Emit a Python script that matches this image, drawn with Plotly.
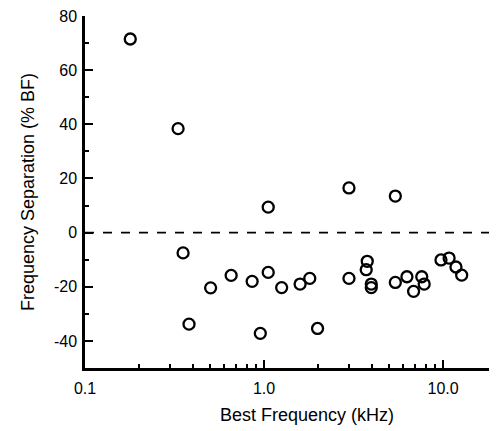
import plotly.graph_objects as go

# Best frequency (kHz) and frequency separation (% BF)
best_freq = [0.179, 0.331, 0.353, 0.381, 0.503, 0.655, 0.858, 0.953, 1.055, 1.055,
             1.254, 1.59, 1.80, 1.99, 2.98, 2.98, 3.77, 3.72, 3.97, 3.97,
             5.41, 5.41, 6.28, 6.84, 7.6, 7.84, 9.73, 10.8, 11.8, 12.7]
freq_sep = [71.5, 38.4, -7.5, -33.8, -20.4, -15.8, -18.0, -37.2, 9.4, -14.7,
            -20.3, -19.0, -16.9, -35.4, 16.5, -16.9, -10.6, -13.7, -19.0, -20.3,
            13.5, -18.4, -16.3, -21.7, -16.3, -19.0, -10.1, -9.4, -12.7, -15.7]

x_tickvals = [0.1, 1.0, 10.0]
x_ticktext = ["0.1", "1.0", "10.0"]
x_minor = [0.2, 0.3, 0.4, 0.5, 0.6, 0.7, 0.8, 0.9, 2, 3, 4, 5, 6, 7, 8, 9]
y_tickvals = [-40, -20, 0, 20, 40, 60, 80]
y_ticktext = ["-40", "-20", "0", "20", "40", "60", "80"]

font = "Liberation Sans, Arial, sans-serif"

fig = go.Figure()
fig.add_trace(go.Scatter(
    x=best_freq, y=freq_sep, mode="markers",
    marker=dict(symbol="circle-open", size=11, color="black", line=dict(width=2.3, color="black")),
    showlegend=False, hoverinfo="x+y"))

fig.add_shape(type="line", xref="paper", yref="y", x0=0, x1=0.99, y0=0, y1=0,
              line=dict(color="black", width=1.8, dash="dash"))

fig.update_layout(
    width=489, height=423,
    margin=dict(l=77, r=0, t=8, b=63),
    paper_bgcolor="white", plot_bgcolor="white",
    font=dict(family=font, size=16, color="black"),
    xaxis=dict(type="log", range=[-1, 1.301], tickvals=x_tickvals, ticktext=x_ticktext,
               ticks="inside", ticklen=8, tickwidth=2, tickcolor="black",
               showline=True, linewidth=2.5, linecolor="black", showgrid=False, zeroline=False,
               minor=dict(tickvals=x_minor, ticks="inside", ticklen=4, tickwidth=2, tickcolor="black", showgrid=False),
               tickfont=dict(size=16, color="black"), ticklabelstandoff=4, ticklabeloverflow="allow"),
    yaxis=dict(range=[-50, 80], tickvals=y_tickvals, ticktext=y_ticktext,
               ticks="inside", ticklen=8, tickwidth=2, tickcolor="black",
               showline=True, linewidth=2.5, linecolor="black", showgrid=False, zeroline=False,
               minor=dict(dtick=10, tick0=0, ticks="inside", ticklen=4, tickwidth=2, tickcolor="black", showgrid=False),
               tickfont=dict(size=16, color="black"), ticklabelstandoff=2, ticklabeloverflow="allow"),
    annotations=[
        dict(text="Best Frequency (kHz)", xref="paper", yref="paper", x=0.539, y=0,
             yshift=-47, showarrow=False, font=dict(size=18, color="black"), xanchor="center", yanchor="middle"),
        dict(text="Frequency Separation (% BF)", xref="paper", yref="paper", x=0, xshift=-57,
             y=0.5, showarrow=False, textangle=-90, font=dict(size=18, color="black"),
             xanchor="center", yanchor="middle"),
    ],
)

fig.write_html("out.html")
